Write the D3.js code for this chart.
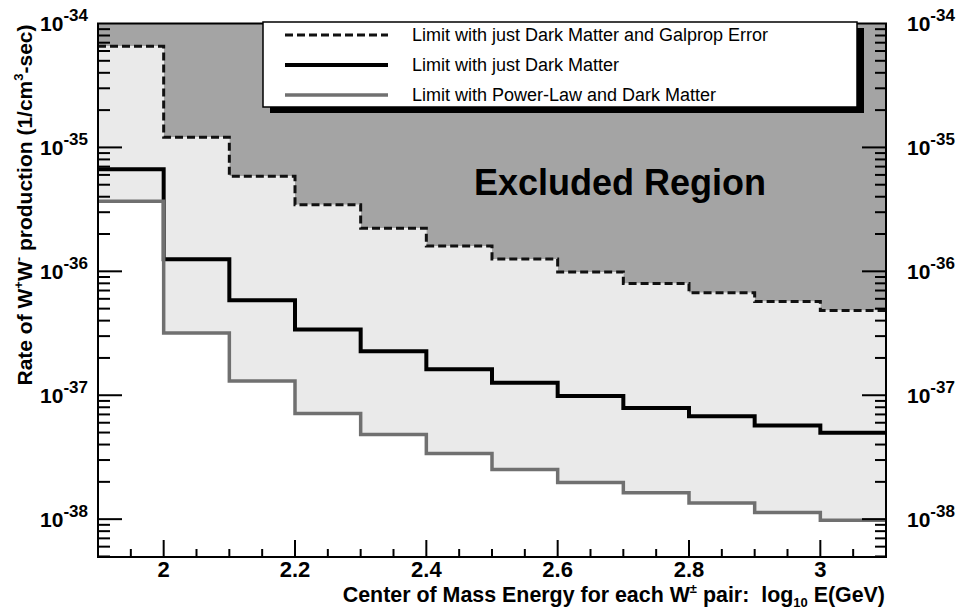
<!DOCTYPE html>
<html>
<head>
<meta charset="utf-8">
<script src="https://cdn.jsdelivr.net/npm/d3@7"></script>
<style>
  html, body { margin: 0; padding: 0; background: #fff; }
  svg { display: block; font-family: "Liberation Sans", Arial, Helvetica, sans-serif; }
  text { white-space: pre; }
</style>
</head>
<body>
<svg id="chart" width="963" height="614"></svg>
<script>
// ---------------- DATA ----------------
const binEdges = [1.9, 2.0, 2.1, 2.2, 2.3, 2.4, 2.5, 2.6, 2.7, 2.8, 2.9, 3.0, 3.1];
const galpropLimit = [6.56e-35, 1.21e-35, 5.84e-36, 3.45e-36, 2.23e-36, 1.60e-36, 1.26e-36, 9.87e-37, 7.96e-37, 6.73e-37, 5.70e-37, 4.82e-37];
const darkMatterLimit = [6.65e-36, 1.25e-36, 5.84e-37, 3.39e-37, 2.26e-37, 1.62e-37, 1.26e-37, 9.87e-38, 7.90e-38, 6.77e-38, 5.69e-38, 4.97e-38];
const powerLawLimit = [3.67e-36, 3.18e-37, 1.30e-37, 7.11e-38, 4.82e-38, 3.39e-38, 2.52e-38, 1.98e-38, 1.63e-38, 1.35e-38, 1.13e-38, 9.80e-39];
const xMajorTicks = [2.0, 2.2, 2.4, 2.6, 2.8, 3.0];
const xTickLabels = ["2", "2.2", "2.4", "2.6", "2.8", "3"];
const yDecades = [1e-38, 1e-37, 1e-36, 1e-35, 1e-34];
const yDecadeExponents = ["-38", "-37", "-36", "-35", "-34"];
const legendLabels = [
  "Limit with just Dark Matter and Galprop Error",
  "Limit with just Dark Matter",
  "Limit with Power-Law and Dark Matter"
];

// ---------------- LAYOUT ----------------
const L = 98, R = 886, T = 23.5, B = 557;
const svg = d3.select("#chart");

const x = d3.scaleLinear().domain([1.9, 3.1]).range([L, R]);
const y = d3.scaleLog().domain([4.95e-39, 1e-34]).range([B, T]);

function stepPoints(vals) {
  const pts = vals.map((v, i) => [binEdges[i], v]);
  pts.push([binEdges[binEdges.length - 1], vals[vals.length - 1]]);
  return pts;
}

svg.append("defs").append("clipPath").attr("id", "plotclip")
  .append("rect").attr("x", L).attr("y", T).attr("width", R - L).attr("height", B - T);

const plot = svg.append("g").attr("clip-path", "url(#plotclip)");

// excluded region (above galprop dashed limit)
const areaTop = d3.area().curve(d3.curveStepAfter)
  .x(d => x(d[0])).y0(y(1e-34) - 5).y1(d => y(d[1]));
plot.append("path").datum(stepPoints(galpropLimit))
  .attr("d", areaTop).attr("fill", "#a4a4a4");

// light band between galprop limit and power-law limit
const bandPts = galpropLimit.map((v, i) => [binEdges[i], v, powerLawLimit[i]]);
bandPts.push([binEdges[binEdges.length - 1], galpropLimit[galpropLimit.length - 1], powerLawLimit[powerLawLimit.length - 1]]);
const bandArea = d3.area().curve(d3.curveStepAfter)
  .x(d => x(d[0])).y0(d => y(d[1])).y1(d => y(d[2]));
plot.append("path").datum(bandPts).attr("d", bandArea).attr("fill", "#eaeaea");

// excluded region label
svg.append("text").attr("x", 620).attr("y", 195).attr("text-anchor", "middle")
  .attr("font-size", 36).attr("font-weight", "bold").attr("fill", "#000")
  .text("Excluded Region");

const stepLine = d3.line().curve(d3.curveStepAfter).x(d => x(d[0])).y(d => y(d[1]));
const seriesStyles = [
  { vals: galpropLimit, color: "#111", width: 3, dash: "8,4" },
  { vals: darkMatterLimit, color: "#000", width: 4, dash: null },
  { vals: powerLawLimit, color: "#707070", width: 3.5, dash: null }
];
seriesStyles.forEach(s => {
  plot.append("path").datum(stepPoints(s.vals)).attr("d", stepLine)
    .attr("fill", "none").attr("stroke", s.color).attr("stroke-width", s.width)
    .attr("stroke-dasharray", s.dash);
});

// ---------------- TICKS ----------------
const allY = y.ticks();
const isMajor = v => Math.abs(Math.log10(v) - Math.round(Math.log10(v))) < 1e-6;
const yTickSpecs = allY.map(v => ({ v, major: isMajor(v) }));
const tickG = svg.append("g").attr("stroke", "#000").attr("stroke-width", 2);

// left axis (ticks point inward)
tickG.append("g").selectAll("line").data(yTickSpecs).join("line")
  .attr("x1", L).attr("x2", d => L + (d.major ? 24 : 12))
  .attr("y1", d => y(d.v)).attr("y2", d => y(d.v));
// right axis
tickG.append("g").selectAll("line").data(yTickSpecs).join("line")
  .attr("x1", R).attr("x2", d => R - (d.major ? 24 : 11))
  .attr("y1", d => y(d.v)).attr("y2", d => y(d.v));

const xMinor = d3.range(1, 24).map(i => 1.9 + i * 0.05)
  .filter(v => !xMajorTicks.some(m => Math.abs(m - v) < 1e-6));
const xTickSpecs = xMinor.map(v => ({ v, major: false }))
  .concat(xMajorTicks.map(v => ({ v, major: true })));
tickG.append("g").selectAll("line").data(xTickSpecs).join("line")
  .attr("x1", d => x(d.v)).attr("x2", d => x(d.v))
  .attr("y1", B).attr("y2", d => B - (d.major ? 17 : 8));

// frame
svg.append("rect").attr("x", L).attr("y", T).attr("width", R - L).attr("height", B - T)
  .attr("fill", "none").attr("stroke", "#000").attr("stroke-width", 2);

// x tick labels
svg.append("g").selectAll("text").data(xMajorTicks).join("text")
  .attr("x", d => x(d)).attr("y", 577).attr("text-anchor", "middle")
  .attr("font-size", 22).attr("font-weight", "bold")
  .text((d, i) => xTickLabels[i]);

// y tick labels (left and right)
function yLabel(g, xpos, anchor) {
  yDecades.forEach((d, i) => {
    const t = g.append("text").attr("x", xpos).attr("y", y(d) + 7.5)
      .attr("text-anchor", anchor).attr("font-weight", "bold");
    t.append("tspan").attr("font-size", 21).text("10");
    t.append("tspan").attr("font-size", 17).attr("dy", -10).text(yDecadeExponents[i]);
  });
}
yLabel(svg.append("g"), 88, "end");
yLabel(svg.append("g"), 907, "start");

// x axis title
const xt = svg.append("text").attr("x", 885).attr("y", 602).attr("text-anchor", "end")
  .attr("font-size", 21.4).attr("font-weight", "bold");
xt.append("tspan").text("Center of Mass Energy for each W");
xt.append("tspan").attr("font-size", 13).attr("dy", -9).text("±");
xt.append("tspan").attr("dy", 9).text(" pair:  log");
xt.append("tspan").attr("font-size", 13).attr("dy", 5).text("10");
xt.append("tspan").attr("dy", -5).text(" E(GeV)");

// y axis title
const yt = svg.append("text").attr("transform", "translate(32,205) rotate(-90)")
  .attr("text-anchor", "middle").attr("font-size", 21).attr("font-weight", "bold");
yt.append("tspan").text("Rate of W");
yt.append("tspan").attr("font-size", 13).attr("dy", -9).text("+");
yt.append("tspan").attr("dy", 9).text("W");
yt.append("tspan").attr("font-size", 13).attr("dy", -9).text("-");
yt.append("tspan").attr("dy", 9).text(" production (1/cm");
yt.append("tspan").attr("font-size", 13).attr("dy", -9).text("3");
yt.append("tspan").attr("dy", 9).text("-sec)");

// ---------------- LEGEND ----------------
const lg = svg.append("g");
const lx = 263, ly = 22, lw = 594, lh = 85;
lg.append("rect").attr("x", lx + 7).attr("y", ly + 6).attr("width", lw).attr("height", lh).attr("fill", "#000");
lg.append("rect").attr("x", lx).attr("y", ly).attr("width", lw).attr("height", lh)
  .attr("fill", "#fff").attr("stroke", "#000").attr("stroke-width", 1.5);
const rowY = [35, 65, 95];
seriesStyles.forEach((s, i) => {
  lg.append("line").attr("x1", 285).attr("x2", 388).attr("y1", rowY[i]).attr("y2", rowY[i])
    .attr("stroke", s.color).attr("stroke-width", s.width).attr("stroke-dasharray", s.dash);
  lg.append("text").attr("x", 412).attr("y", rowY[i] + 6).attr("font-size", 18)
    .attr("fill", "#000").text(legendLabels[i]);
});
</script>
</body>
</html>
